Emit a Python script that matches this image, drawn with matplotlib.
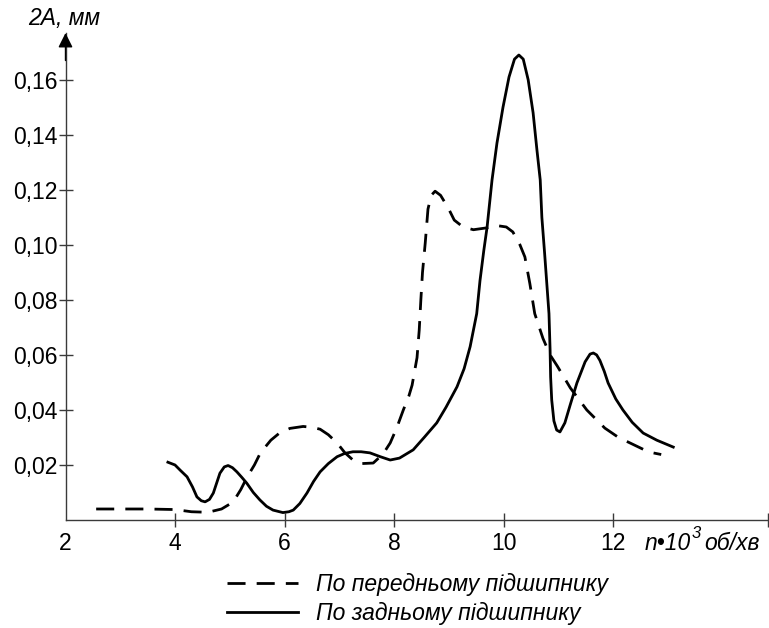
import matplotlib.pyplot as plt
from matplotlib.lines import Line2D

plt.rcParams['font.family'] = ['Liberation Sans', 'DejaVu Sans']

# front bearing (dashed)
n_front = [2.56, 3.0, 3.5, 4.0, 4.3, 4.6, 4.85, 5.06, 5.2, 5.32, 5.45, 5.56,
           5.75, 5.92, 6.1, 6.34, 6.5, 6.65, 6.8, 6.96, 7.1, 7.25, 7.4, 7.62,
           7.8, 7.93, 8.05, 8.17, 8.27, 8.33, 8.42, 8.46, 8.49, 8.52, 8.57,
           8.62, 8.68, 8.75, 8.85, 8.99, 9.1, 9.26, 9.45, 9.7, 9.88, 10.05,
           10.17, 10.3, 10.39, 10.48, 10.57, 10.72, 10.85, 10.98, 11.22,
           11.52, 11.85, 12.1, 12.31, 12.55, 12.73, 12.88]
a_front = [0.004, 0.004, 0.004, 0.0038, 0.003, 0.0028, 0.004, 0.0065, 0.011,
           0.0157, 0.020, 0.0244, 0.029, 0.0318, 0.0333, 0.034, 0.0337, 0.033,
           0.031, 0.028, 0.0245, 0.0218, 0.0205, 0.0207, 0.024, 0.028, 0.0335,
           0.040, 0.045, 0.049, 0.059, 0.069, 0.080, 0.090, 0.1007, 0.113,
           0.118, 0.1195, 0.118, 0.1134, 0.109, 0.1065, 0.1055, 0.1062, 0.107,
           0.1065, 0.1047, 0.100, 0.0956, 0.086, 0.075, 0.066, 0.060, 0.056,
           0.048, 0.040, 0.0334, 0.030, 0.028, 0.0257, 0.0244, 0.0238]

# rear bearing (solid)
n_rear = [3.87, 4.0, 4.1, 4.22, 4.32, 4.40, 4.48, 4.55, 4.63, 4.70, 4.77, 4.82,
          4.9, 4.97, 5.05, 5.13, 5.22, 5.31, 5.43, 5.55, 5.67, 5.79, 5.97, 6.08,
          6.16, 6.28, 6.41, 6.53, 6.65, 6.8, 6.96, 7.1, 7.25, 7.4, 7.56, 7.75,
          7.93, 8.1, 8.35, 8.55, 8.78, 8.95, 9.15, 9.28, 9.39, 9.51, 9.57, 9.64,
          9.70, 9.79, 9.88, 9.99, 10.1, 10.2, 10.28, 10.36, 10.45, 10.54, 10.61,
          10.67, 10.70, 10.75, 10.79, 10.83, 10.85, 10.86, 10.88, 10.92, 10.97,
          11.03, 11.12, 11.22, 11.34, 11.49, 11.58, 11.64, 11.70, 11.76, 11.84,
          11.91, 12.05, 12.18, 12.35, 12.55, 12.8, 13.1]
a_rear = [0.021, 0.020, 0.018, 0.0157, 0.012, 0.0084, 0.007, 0.0066, 0.0075,
          0.0098, 0.014, 0.017, 0.0193, 0.0198, 0.019, 0.0175, 0.0155, 0.0134,
          0.010, 0.0073, 0.005, 0.0036, 0.0027, 0.003, 0.0036, 0.006, 0.0098,
          0.014, 0.0175, 0.0205, 0.023, 0.0242, 0.0248, 0.0248, 0.0244, 0.023,
          0.0218, 0.0225, 0.0255, 0.030, 0.0353, 0.041, 0.0484, 0.055, 0.063,
          0.075, 0.087, 0.098, 0.1065, 0.1236, 0.137, 0.150, 0.161, 0.1675,
          0.169, 0.1675, 0.160, 0.148, 0.1345, 0.1236, 0.110, 0.097, 0.086,
          0.075, 0.062, 0.052, 0.0436, 0.036, 0.0327, 0.032, 0.0353, 0.042,
          0.0498, 0.0575, 0.0603, 0.0607, 0.060, 0.058, 0.054, 0.0498, 0.044,
          0.040, 0.0355, 0.0316, 0.029, 0.0265]

x_ticks = [2, 4, 6, 8, 10, 12]
y_ticks = [0.02, 0.04, 0.06, 0.08, 0.10, 0.12, 0.14, 0.16]
y_labels = ['0,02', '0,04', '0,06', '0,08', '0,10', '0,12', '0,14', '0,16']

W, H = 769, 628
fig = plt.figure(figsize=(W / 100, H / 100), dpi=100)
ax = fig.add_axes([65.5 / W, 108 / H, (768 - 65.5) / W, (520 - 33) / H])

xmax, ymax = 14.83, 0.177
axis_col = '#3a3a3a'
fs = 16.5

ax.plot(n_front, a_front, color='black', lw=2.0, dashes=(6.5, 4))
ax.plot(n_rear, a_rear, color='black', lw=2.0)

ax.set_xlim(2, xmax)
ax.set_ylim(0, ymax)
for s in ['top', 'right']:
    ax.spines[s].set_visible(False)
for s in ['left', 'bottom']:
    ax.spines[s].set_color(axis_col)
    ax.spines[s].set_linewidth(1.0)

ax.set_xticks(x_ticks)
ax.set_xticklabels([str(t) for t in x_ticks])
ax.set_xticks([xmax], minor=True)
ax.set_yticks(y_ticks)
ax.set_yticklabels(y_labels)
ax.tick_params(axis='both', which='both', direction='inout', length=10,
               width=1.0, color=axis_col, labelsize=fs)
ax.tick_params(axis='x', pad=4)
ax.tick_params(axis='y', pad=1)
ax.xaxis.get_major_ticks()[0].tick1line.set_visible(False)

# arrow on the y axis
ax.annotate('', xy=(2, ymax), xytext=(2, ymax - 0.01),
            arrowprops=dict(arrowstyle='-|>', color='black', lw=1.0,
                            mutation_scale=22, shrinkA=0, shrinkB=0),
            annotation_clip=False)

fig.text(64 / W, 1 - 18 / H, '2A, мм', style='italic', fontsize=fs,
         ha='center', va='center')

# x axis unit with a raised 3
fig.text(645 / W, 1 - 544 / H, 'n•10', style='italic', fontsize=fs,
         ha='left', va='center')
fig.text(692 / W, 1 - 533 / H, '3', style='italic', fontsize=12,
         ha='left', va='center')
fig.text(704 / W, 1 - 544 / H, 'об/хв', style='italic', fontsize=fs,
         ha='left', va='center')

handles = [Line2D([], [], color='black', lw=2.0, dashes=(6.5, 4)),
           Line2D([], [], color='black', lw=2.0)]
labels = ['По передньому підшипнику', 'По задньому підшипнику']
leg = fig.legend(handles, labels, loc='upper left',
                 bbox_to_anchor=(227 / W, 1 - 573 / H), frameon=False,
                 borderpad=0, borderaxespad=0, handlelength=3.1,
                 handletextpad=0.8, labelspacing=0.28,
                 prop={'style': 'italic', 'size': fs})

fig.savefig('out.png', dpi=100)
